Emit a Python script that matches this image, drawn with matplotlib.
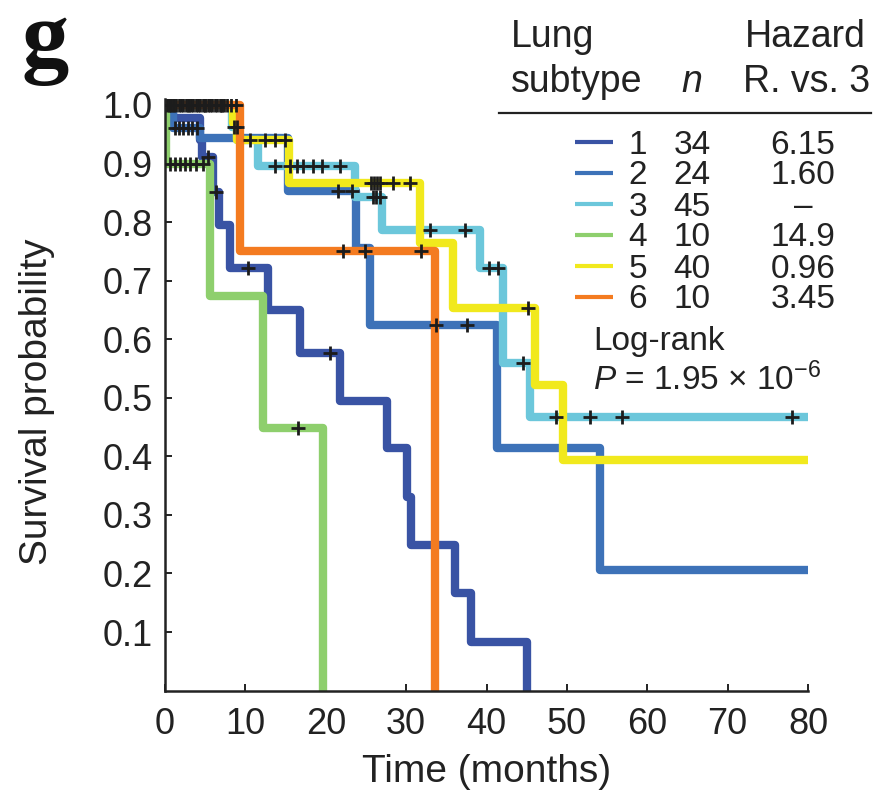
import numpy as np
import matplotlib
matplotlib.use("Agg")
import matplotlib.pyplot as plt
from matplotlib.lines import Line2D

plt.rcParams["font.family"] = ["Liberation Sans", "DejaVu Sans"]
plt.rcParams["mathtext.fontset"] = "custom"
plt.rcParams["mathtext.rm"] = "Liberation Sans"
plt.rcParams["mathtext.it"] = "Liberation Sans:italic"

# ---- Kaplan-Meier curves per lung subtype (time in months, survival) ----
subtypes = ["1", "2", "3", "4", "5", "6"]
n_patients = ["34", "24", "45", "10", "40", "10"]
hazard_ratio = ["6.15", "1.60", "\u2013", "14.9", "0.96", "3.45"]

t1 = [0, 1.0, 4.3, 4.6, 6.0, 6.7, 8.05, 12.85, 16.8, 21.8, 27.6, 30.1, 30.6, 36.1, 38.1, 45.0]
s1 = [1.0, 0.978, 0.94, 0.911, 0.852, 0.795, 0.722, 0.65, 0.576, 0.495, 0.414, 0.331, 0.249, 0.166, 0.083, 0.0]
c1 = [5.3, 6.4, 10.3, 20.5]

t2 = [0, 1.0, 4.3, 15.3, 23.8, 25.5, 41.3, 54.1, 80]
s2 = [1.0, 0.96, 0.943, 0.853, 0.755, 0.624, 0.414, 0.206, 0.206]
c2 = [0.6, 1.3, 1.8, 2.3, 2.9, 3.4, 4.0, 21.5, 23.3, 33.7, 37.6]

t3 = [0, 8.3, 9.0, 11.6, 23.6, 27.0, 39.2, 42.1, 45.4, 80]
s3 = [1.0, 0.962, 0.94, 0.895, 0.843, 0.787, 0.722, 0.56, 0.468, 0.468]
c3 = [0.2, 0.8, 1.4, 2.0, 2.6, 3.2, 3.8, 4.4, 5.0, 5.6, 6.2, 6.8, 7.4, 8.6, 8.9,
      13.7, 15.5, 16.4, 17.2, 18.4, 19.5, 21.8, 25.9, 26.3, 26.7,
      33.0, 37.3, 40.3, 41.4, 44.6, 48.6, 52.9, 56.8, 78.0]

t4 = [0, 0.15, 5.55, 12.2, 19.7]
s4 = [1.0, 0.9, 0.673, 0.448, 0.0]
c4 = [0.6, 1.3, 1.9, 2.5, 3.1, 3.8, 4.7, 16.5]

t5 = [0, 8.4, 8.9, 15.4, 31.7, 35.8, 46.0, 49.5, 80]
s5 = [1.0, 0.97, 0.94, 0.867, 0.764, 0.653, 0.522, 0.394, 0.394]
c5 = [0.5, 1.1, 1.7, 2.3, 2.9, 3.5, 4.1, 4.7, 5.3, 5.9, 6.5, 7.1, 7.7, 8.2,
      10.6, 12.4, 13.7, 14.9,
      25.6, 26.0, 26.4, 26.8, 28.4, 30.5, 45.2]

t6 = [0, 9.3, 33.6]
s6 = [1.0, 0.75, 0.0]
c6 = [1.0, 3.0, 5.0, 7.0, 8.8, 22.1, 24.9, 31.9]

times = [t1, t2, t3, t4, t5, t6]
surv = [s1, s2, s3, s4, s5, s6]
censored = [c1, c2, c3, c4, c5, c6]
colors = ["#3953a4", "#3d72b8", "#6cc7db", "#8ecf6d", "#f1e91d", "#f47b20"]

x_ticks = [0, 10, 20, 30, 40, 50, 60, 70, 80]
y_ticks = [0.1, 0.2, 0.3, 0.4, 0.5, 0.6, 0.7, 0.8, 0.9, 1.0]

# ---- figure layout in pixel units ----
W, H = 875, 793
fig = plt.figure(figsize=(W / 100, H / 100), dpi=100)


def fx(x):
    return x / W


def fy(y):
    return 1 - y / H


ax_left, ax_right, ax_bottom, ax_top = 165, 808, 690.6, 99.1
ax = fig.add_axes([fx(ax_left), fy(ax_bottom), (ax_right - ax_left) / W, (ax_bottom - ax_top) / H])

for t, s, col in zip(times, surv, colors):
    ax.step(t, s, where="post", color=col, lw=6.0, solid_joinstyle="round",
            solid_capstyle="butt", zorder=2)

for t, s, c in zip(times, surv, censored):
    t_arr = np.asarray(t)
    s_arr = np.asarray(s)
    idx = np.searchsorted(t_arr, c, side="right") - 1
    ax.plot(c, s_arr[idx], ls="none", marker="+", ms=10, mew=2.0,
            color="#1c1c1c", zorder=5)

ax.set_xlim(0, 80)
ax.set_ylim(0, 1.01)
ax.set_xticks(x_ticks)
ax.set_yticks(y_ticks)
ax.set_xticklabels([str(v) for v in x_ticks])
ax.set_yticklabels([f"{v:.1f}" for v in y_ticks])
for side in ("top", "right"):
    ax.spines[side].set_visible(False)
for side in ("left", "bottom"):
    ax.spines[side].set_linewidth(1.8)
    ax.spines[side].set_color("#222222")
ax.tick_params(direction="in", length=5, width=1.4, color="#222222",
               labelsize=26, labelcolor="#222222")
ax.tick_params(axis="x", pad=12)
ax.tick_params(axis="y", pad=9)

txt = "#222222"
fig.text(fx(487), fy(772), "Time (months)", ha="center", va="center", fontsize=28, color=txt)
fig.text(fx(37), fy(402), "Survival probability", ha="center", va="center",
         rotation=90, fontsize=28, color=txt)
fig.text(fx(45), fy(66), "g", ha="center", va="baseline", fontsize=68,
         fontweight="bold", family="Liberation Serif", color="#111111")

# ---- subtype table ----
hdr = 27
fig.text(fx(511), fy(47), "Lung", ha="left", va="baseline", fontsize=hdr, color=txt)
fig.text(fx(511), fy(92), "subtype", ha="left", va="baseline", fontsize=hdr, color=txt)
fig.text(fx(692), fy(92), "n", ha="center", va="baseline", fontsize=hdr,
         style="italic", color=txt)
fig.text(fx(866), fy(47), "Hazard", ha="right", va="baseline", fontsize=hdr, color=txt)
fig.text(fx(870), fy(92), "R. vs. 3", ha="right", va="baseline", fontsize=hdr, color=txt)
fig.add_artist(Line2D([fx(499), fx(871)], [fy(112.5), fy(112.5)], lw=1.6,
                      color="#222222", transform=fig.transFigure))

row = 24
for i, (lab, n, hr, col) in enumerate(zip(subtypes, n_patients, hazard_ratio, colors)):
    yc = 141.5 + 31 * i
    fig.add_artist(Line2D([fx(575), fx(613)], [fy(yc), fy(yc)], lw=3, color=col,
                          solid_capstyle="butt", transform=fig.transFigure))
    base = fy(yc + 12)
    fig.text(fx(638), base, lab, ha="center", va="baseline", fontsize=row, color=txt)
    fig.text(fx(692), base, n, ha="center", va="baseline", fontsize=row, color=txt)
    fig.text(fx(803), base, hr, ha="center", va="baseline", fontsize=row, color=txt)

fig.text(fx(593), fy(350), "Log-rank", ha="left", va="baseline", fontsize=row, color=txt)
fig.text(fx(593), fy(390), "$P$ = 1.95 \u00d7 10$^{-6}$", ha="left",
         va="baseline", fontsize=row, color=txt)

fig.savefig("out.png", dpi=100, facecolor="white")
